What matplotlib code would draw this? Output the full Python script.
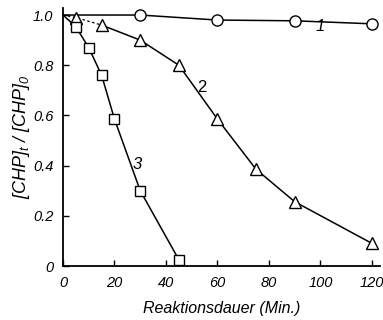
import matplotlib.pyplot as plt

# Curve 1 (circles)
t1 = [0, 30, 60, 90, 120]
c1 = [1.0, 1.0, 0.98, 0.977, 0.965]

# Curve 2 (triangles)
t2 = [0, 5, 15, 30, 45, 60, 75, 90, 120]
c2 = [1.0, 0.99, 0.96, 0.90, 0.80, 0.585, 0.385, 0.256, 0.09]

# Curve 3 (squares)
t3 = [0, 5, 10, 15, 20, 30, 45]
c3 = [1.0, 0.953, 0.87, 0.76, 0.585, 0.30, 0.025]

xticks = [0, 20, 40, 60, 80, 100, 120]
yticks = [0, 0.2, 0.4, 0.6, 0.8, 1.0]
yticklabels = ['0', '0.2', '0.4', '0.6', '0.8', '1.0']

plt.rcParams['font.family'] = ['Liberation Sans', 'DejaVu Sans']
plt.rcParams['font.style'] = 'italic'
plt.rcParams['mathtext.fontset'] = 'custom'
plt.rcParams['mathtext.it'] = 'Liberation Sans:italic'
plt.rcParams['mathtext.rm'] = 'Liberation Sans:italic'

fig = plt.figure(figsize=(3.83, 3.2), dpi=100)
ax = fig.add_axes([63 / 383, 54 / 320, 316.7 / 383, 258.5 / 320])

lw = 1.1
# curve 1 (no marker at t=0)
ax.plot(t1, c1, color='black', linewidth=lw, zorder=2)
ax.plot(t1[1:], c1[1:], linestyle='none', marker='o', markersize=8,
        markerfacecolor='white', markeredgecolor='black', markeredgewidth=1.0, zorder=3)
# curve 2: first stretch dotted, rest solid
ax.plot(t2[:3], c2[:3], color='black', linewidth=0.9, linestyle=(0, (2, 2)), zorder=2)
ax.plot(t2[2:], c2[2:], color='black', linewidth=lw, zorder=2)
ax.plot(t2[1:], c2[1:], linestyle='none', marker='^', markersize=8,
        markerfacecolor='white', markeredgecolor='black', markeredgewidth=1.0, zorder=3)
# curve 3
ax.plot(t3, c3, color='black', linewidth=lw, zorder=2)
ax.plot(t3[1:], c3[1:], linestyle='none', marker='s', markersize=7,
        markerfacecolor='white', markeredgecolor='black', markeredgewidth=1.0, zorder=3)

ax.text(100, 0.955, '1', fontsize=12, ha='center', va='center')
ax.text(54, 0.71, '2', fontsize=12, ha='center', va='center', style='normal')
ax.text(29, 0.405, '3', fontsize=12, ha='center', va='center')

ax.set_xlim(0, 123)
ax.set_ylim(0, 1.03)
ax.set_xticks(xticks)
ax.set_yticks(yticks)
ax.set_yticklabels(yticklabels)
ax.tick_params(direction='in', length=4, width=1.0, labelsize=10.5, pad=7)
for s in ['top', 'right']:
    ax.spines[s].set_visible(False)
for s in ['left', 'bottom']:
    ax.spines[s].set_linewidth(1.3)

ax.set_xlabel('Reaktionsdauer (Min.)', fontsize=11.5, labelpad=8)
ax.set_ylabel(r'[CHP]$_t$ / [CHP]$_0$', fontsize=13, labelpad=1)

fig.savefig('out.png', dpi=100)
